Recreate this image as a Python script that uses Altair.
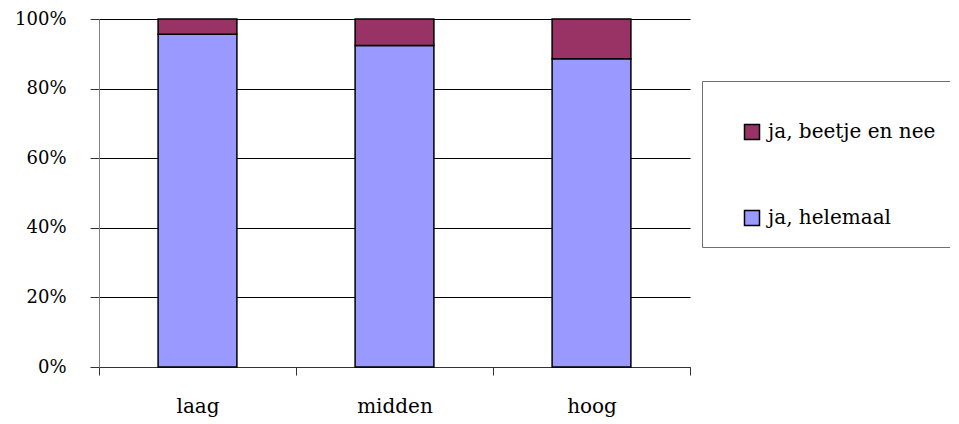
import altair as alt
import pandas as pd

categories = ["laag", "midden", "hoog"]
series = ["ja, beetje en nee", "ja, helemaal"]
helemaal = [95.6, 92.4, 88.6]
beetje = [4.4, 7.6, 11.4]
colors = ["#993366", "#9999FF"]

rows = []
for i, c in enumerate(categories):
    rows.append({"cat": c, "serie": "ja, helemaal", "val": helemaal[i] / 100, "ord": 0})
    rows.append({"cat": c, "serie": "ja, beetje en nee", "val": beetje[i] / 100, "ord": 1})
df = pd.DataFrame(rows)

FONT = "DejaVu Serif"

chart = (
    alt.Chart(df)
    .mark_bar(width=alt.RelativeBandSize(0.4), stroke="black", strokeWidth=1.5)
    .encode(
        x=alt.X(
            "cat:N",
            sort=categories,
            scale=alt.Scale(paddingInner=0, paddingOuter=0),
            axis=alt.Axis(
                title=None,
                labelAngle=0,
                tickBand="extent",
                tickSize=8,
                tickColor="#333333",
                domainColor="#333333",
                labelPadding=21,
                labelFontSize=20,
                labelFont=FONT,
                labelColor="black",
                grid=False,
            ),
        ),
        y=alt.Y(
            "val:Q",
            stack="zero",
            scale=alt.Scale(domain=[0, 1], nice=False),
            axis=alt.Axis(
                title=None,
                values=[0, 0.2, 0.4, 0.6, 0.8, 1.0],
                format=".0%",
                tickSize=9,
                tickColor="#333333",
                domainColor="#808080",
                gridColor="black",
                gridWidth=1,
                labelPadding=24,
                labelFontSize=18,
                labelFont=FONT,
                labelColor="black",
            ),
        ),
        color=alt.Color(
            "serie:N",
            scale=alt.Scale(domain=series, range=colors),
            legend=alt.Legend(
                title=" ",
                titleFontSize=1,
                titlePadding=22,
                orient="none",
                legendX=603,
                legendY=62,
                padding=18,
                rowPadding=64,
                symbolType="square",
                symbolSize=225,
                symbolOffset=22,
                symbolStrokeColor="black",
                symbolStrokeWidth=1.5,
                labelFontSize=20,
                labelFont=FONT,
                labelColor="black",
                labelOffset=6,
                labelLimit=400,
                strokeColor="#707070",
                fillColor="white",
            ),
        ),
        order=alt.Order("ord:Q"),
    )
    .properties(
        width=591,
        height=348,
        autosize=alt.AutoSizeParams(type="none"),
        padding={"left": 91, "top": 11, "right": 260, "bottom": 50},
    )
    .configure_view(strokeWidth=0)
)

chart.save("out.html", embed_options={"renderer": "svg", "actions": False})
